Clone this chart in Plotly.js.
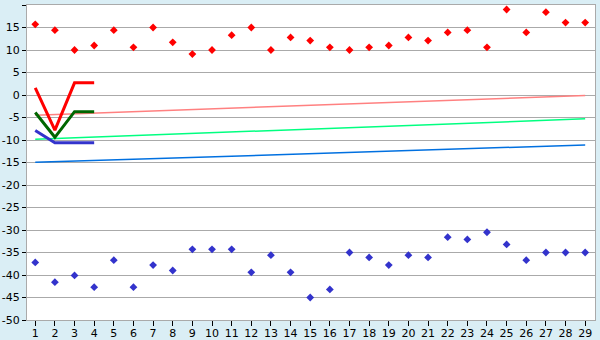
<!DOCTYPE html>
<html><head><meta charset="utf-8">
<script src="https://cdn.plot.ly/plotly-3.0.1.min.js"></script>
<style>html,body{margin:0;padding:0;background:#daeef5;}</style>
</head><body>
<div id="chart" style="width:600px;height:340px;"></div>
<script>
const categories = [1,2,3,4,5,6,7,8,9,10,11,12,13,14,15,16,17,18,19,20,21,22,23,24,25,26,27,28,29];
const redPoints = [15.7,14.4,10.0,11.0,14.4,10.6,15.0,11.7,9.1,10.0,13.3,15.0,10.0,12.8,12.1,10.6,10.0,10.6,11.0,12.8,12.1,13.9,14.4,10.6,19.0,13.9,18.4,16.1,16.1];
const bluePoints = [-37.2,-41.6,-40.1,-42.7,-36.7,-42.7,-37.8,-39.0,-34.3,-34.3,-34.3,-39.4,-35.6,-39.4,-45.0,-43.2,-35.0,-36.1,-37.8,-35.6,-36.1,-31.6,-32.1,-30.5,-33.2,-36.7,-35.0,-35.0,-35.0];
const shortX = [1,2,3,4];
const redThick = [1.6,-7.8,2.7,2.7];
const greenThick = [-3.9,-9.4,-3.7,-3.7];
const blueThick = [-7.9,-10.6,-10.6,-10.6];
const trendX = [1,29];
const pinkTrend = [-4.5,-0.1];
const greenTrend = [-9.85,-5.3];
const blueTrend = [-14.97,-11.1];
const yTicks = [20,15,10,5,0,-5,-10,-15,-20,-25,-30,-35,-40,-45,-50];

const traces = [
  {x: trendX, y: pinkTrend, mode:'lines', line:{color:'#ff8080', width:1.5}},
  {x: trendX, y: greenTrend, mode:'lines', line:{color:'#00ff80', width:1.5}},
  {x: trendX, y: blueTrend, mode:'lines', line:{color:'#0070e0', width:1.5}},
  {x: shortX, y: redThick, mode:'lines', line:{color:'#ff0000', width:3}},
  {x: shortX, y: greenThick, mode:'lines', line:{color:'#006600', width:3}},
  {x: shortX, y: blueThick, mode:'lines', line:{color:'#3333cc', width:3}},
  {x: categories, y: redPoints, mode:'markers', marker:{symbol:'diamond', size:6, color:'#ff0000'}},
  {x: categories, y: bluePoints, mode:'markers', marker:{symbol:'diamond', size:6, color:'#3333cc'}}
];
const layout = {
  width:600, height:340,
  margin:{l:27, r:5, t:5, b:20},
  paper_bgcolor:'#daeef5', plot_bgcolor:'#ffffff',
  showlegend:false,
  font:{family:'DejaVu Sans, Verdana, sans-serif', size:11, color:'#000'},
  xaxis:{range:[0.58,29.5], tickmode:'array', tickvals:categories, ticktext:categories.map(String),
    showgrid:false, zeroline:false, showline:true, linecolor:'#aaaaaa', mirror:true,
    ticks:'outside', ticklen:5, tickcolor:'#000', tickfont:{size:11}, ticklabelstandoff:-2},
  yaxis:{range:[-50,20], tickmode:'array', tickvals:yTicks, ticktext:yTicks.map(String),
    showgrid:true, gridcolor:'#aaaaaa', gridwidth:1, zeroline:false, showline:true, linecolor:'#aaaaaa', mirror:true,
    ticks:'outside', ticklen:4, tickcolor:'#000', tickfont:{size:11}}
};
Plotly.newPlot('chart', traces, layout, {displayModeBar:false, staticPlot:true});
</script>
</body></html>
